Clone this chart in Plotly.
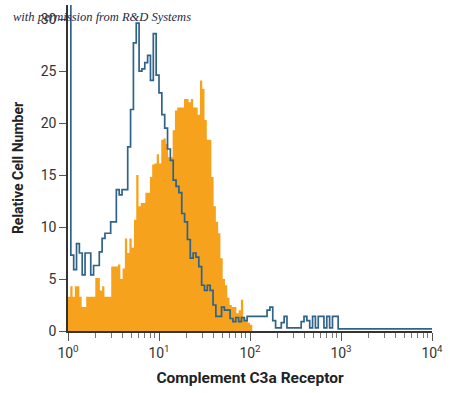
import numpy as np
import plotly.graph_objects as go

# ---- data (histogram counts on log10 channel bins) ----
orange_bin_decades = 0.025          # bin width in decades
orange_counts = [
    3.3, 4.3, 3.3, 4.3, 4.3, 3.3, 2.3, 2.3, 3.3, 3.3,
    3.3, 3.3, 5.1, 5.1, 3.9, 4.3, 3.3, 3.3, 3.3, 6.2,
    6.2, 6.2, 6.4, 5.0, 6.0, 8.9, 7.5, 8.9, 8.0, 10.7,
    15.0, 12.0, 12.3, 12.3, 13.3, 13.3, 14.8, 16.0, 16.1, 17.0,
    16.1, 18.4, 18.5, 18.0, 16.7, 16.7, 19.3, 21.2, 21.5, 21.5,
    21.5, 22.3, 22.3, 22.0, 22.3, 21.5, 21.5, 20.8, 24.1, 23.3,
    20.3, 18.4, 18.4, 14.8, 12.0, 10.5, 9.4, 7.0, 5.0, 4.4,
    3.2, 2.5, 2.3, 2.3, 1.7, 2.0, 3.0, 1.3, 1.0, 0.8,
    0.6,
]

blue_bin_decades = 1 / 32
blue_counts = [
    40.0, 7.3, 5.9, 8.4, 7.5, 5.4, 7.5, 7.5, 5.4, 6.3,
    6.3, 7.6, 8.9, 9.4, 9.4, 10.5, 10.5, 13.6, 13.1, 13.6,
    13.6, 17.7, 21.3, 27.7, 29.6, 25.0, 25.2, 25.8, 26.5, 24.1,
    28.6, 24.6, 22.9, 20.8, 19.5, 17.5, 16.4, 14.5, 13.9, 13.3,
    11.3, 10.5, 8.8, 7.0, 7.5, 7.1, 6.2, 4.4, 3.9, 4.4,
    3.9, 2.5, 1.4, 1.4, 2.3, 2.0, 2.0, 1.2, 0.9, 1.3,
    0.9, 1.3, 1.0, 1.4, 1.4, 1.4, 1.4, 1.4, 1.4, 1.4,
    2.0, 2.3, 1.0, 0.3, 0.3, 0.8, 1.4, 0.3, 0.3, 0.3,
    0.3, 0.3, 0.9, 1.4, 1.0, 0.3, 1.4, 0.3, 1.4, 1.4,
    0.3, 1.4, 0.3, 1.4, 1.4, 0.2, 0.2, 0.2, 0.2, 0.2,
    0.2, 0.2, 0.2, 0.2, 0.2, 0.2, 0.2, 0.2, 0.2, 0.2,
    0.2, 0.2, 0.2, 0.2, 0.2, 0.2, 0.2, 0.2, 0.2, 0.2,
    0.2, 0.2, 0.2, 0.2, 0.2, 0.2, 0.2, 0.2,
]

x_tick_values = [1, 10, 100, 1000, 10000]
x_tick_labels = ["10<sup>0</sup>", "10<sup>1</sup>", "10<sup>2</sup>", "10<sup>3</sup>", "10<sup>4</sup>"]
y_tick_values = [0, 5, 10, 15, 20, 25, 30]

x_title = "Complement C3a Receptor"
y_title = "Relative Cell Number"
credit = "with permission from R&D Systems"

# ---- build step traces ----
def step_xy(counts, width):
    edges = np.arange(len(counts) + 1) * width
    x = 10 ** edges
    y = list(counts) + [counts[-1]]
    return x, y

ox, oy = step_xy(orange_counts, orange_bin_decades)
bx, by = step_xy(blue_counts, blue_bin_decades)

ORANGE = "#F6A21D"
BLUE = "#2F6388"
FONT = "Roboto, Liberation Sans, sans-serif"

fig = go.Figure()
fig.add_trace(go.Scatter(
    x=ox, y=oy, mode="lines", line=dict(shape="hv", width=0, color=ORANGE),
    fill="tozeroy", fillcolor=ORANGE, hoverinfo="skip", showlegend=False,
))
fig.add_trace(go.Scatter(
    x=bx, y=by, mode="lines", line=dict(shape="hv", width=1.7, color=BLUE),
    hoverinfo="skip", showlegend=False,
))

minor_vals = [m * 10 ** d for d in range(4) for m in range(2, 10)]

fig.update_layout(
    width=450, height=393,
    margin=dict(l=68, r=18, t=5, b=62),
    paper_bgcolor="white", plot_bgcolor="white",
    showlegend=False,
    xaxis=dict(
        type="log", range=[0, 4], automargin=False,
        showgrid=False, zeroline=False,
        showline=True, linecolor="#333333", linewidth=1.5,
        ticks="outside", ticklen=8, tickcolor="#555555", tickwidth=1,
        tickmode="array", tickvals=x_tick_values, ticktext=x_tick_labels,
        tickfont=dict(family=FONT, size=14, color="#333333"),
        minor=dict(tickmode="array", tickvals=minor_vals, ticks="outside",
                   ticklen=5, tickcolor="#777777", tickwidth=1, showgrid=False),
        title=dict(text="<b>" + x_title + "</b>", standoff=13,
                   font=dict(family=FONT, size=15.5, color="#222222")),
    ),
    yaxis=dict(
        range=[0, 31.35], automargin=False,
        showgrid=False, zeroline=False,
        showline=True, linecolor="#333333", linewidth=1.5,
        ticks="outside", ticklen=7, tickcolor="#555555", tickwidth=1,
        tickmode="array", tickvals=y_tick_values,
        tickfont=dict(family=FONT, size=14, color="#333333"),
        title=dict(text="<b>" + y_title + "</b>", standoff=14,
                   font=dict(family=FONT, size=14, color="#222222")),
    ),
    annotations=[dict(
        text="<i>" + credit + "</i>", xref="paper", yref="paper",
        x=-0.157, y=0.962, xanchor="left", yanchor="middle", showarrow=False,
        font=dict(family="Liberation Serif, DejaVu Serif, serif", size=12.5, color="#1c2a48"),
    )],
)

fig.write_html("out.html",
               config={"displayModeBar": False},
               post_script="document.body.style.margin='0';document.body.style.padding='0';")
